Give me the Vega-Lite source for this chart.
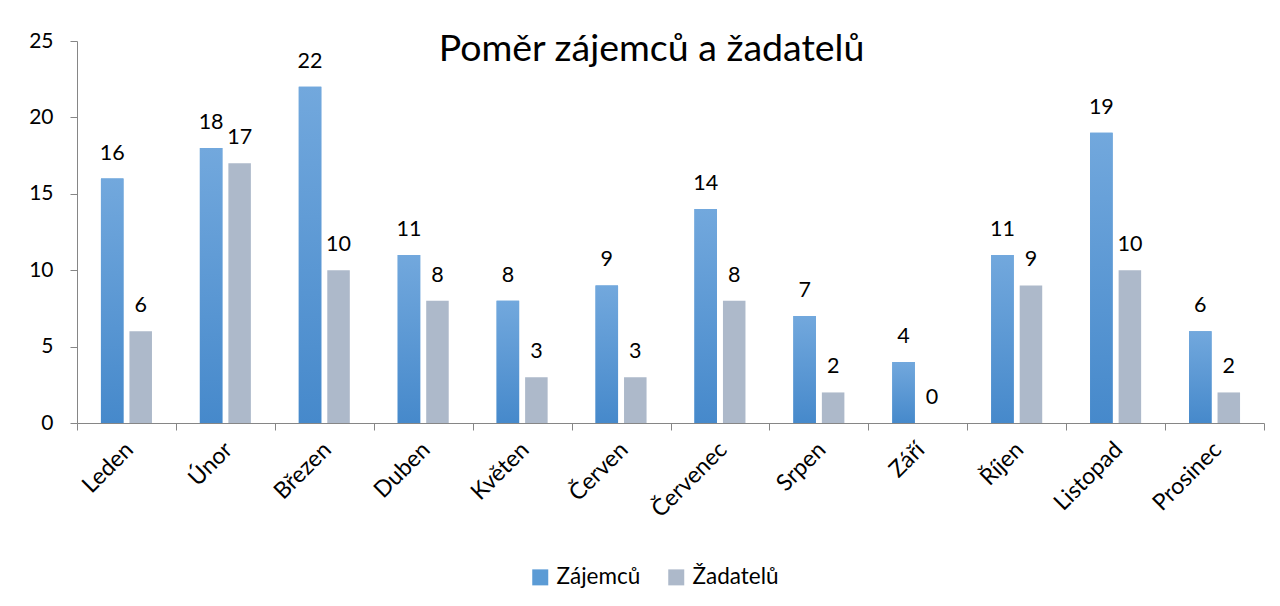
{
  "$schema": "https://vega.github.io/schema/vega-lite/v6.json",
  "width": 1187,
  "height": 382,
  "autosize": {"type": "none"},
  "padding": {"left": 77, "top": 41, "right": 16, "bottom": 183},
  "background": "white",
  "config": {"font": "Lato", "view": {"stroke": null}},
  "title": {
    "text": "Poměr zájemců a žadatelů",
    "fontSize": 37.5,
    "font": "Lato",
    "fontWeight": "normal",
    "color": "black",
    "anchor": "middle",
    "frame": "group",
    "baseline": "alphabetic",
    "offset": -26,
    "dy": 42,
    "dx": -19
  },
  "data": {
    "values": [
      {"month": "Leden", "series": "Zájemců", "value": 16},
      {"month": "Leden", "series": "Žadatelů", "value": 6},
      {"month": "Únor", "series": "Zájemců", "value": 18},
      {"month": "Únor", "series": "Žadatelů", "value": 17},
      {"month": "Březen", "series": "Zájemců", "value": 22},
      {"month": "Březen", "series": "Žadatelů", "value": 10},
      {"month": "Duben", "series": "Zájemců", "value": 11},
      {"month": "Duben", "series": "Žadatelů", "value": 8},
      {"month": "Květen", "series": "Zájemců", "value": 8},
      {"month": "Květen", "series": "Žadatelů", "value": 3},
      {"month": "Červen", "series": "Zájemců", "value": 9},
      {"month": "Červen", "series": "Žadatelů", "value": 3},
      {"month": "Červenec", "series": "Zájemců", "value": 14},
      {"month": "Červenec", "series": "Žadatelů", "value": 8},
      {"month": "Srpen", "series": "Zájemců", "value": 7},
      {"month": "Srpen", "series": "Žadatelů", "value": 2},
      {"month": "Září", "series": "Zájemců", "value": 4},
      {"month": "Září", "series": "Žadatelů", "value": 0},
      {"month": "Říjen", "series": "Zájemců", "value": 11},
      {"month": "Říjen", "series": "Žadatelů", "value": 9},
      {"month": "Listopad", "series": "Zájemců", "value": 19},
      {"month": "Listopad", "series": "Žadatelů", "value": 10},
      {"month": "Prosinec", "series": "Zájemců", "value": 6},
      {"month": "Prosinec", "series": "Žadatelů", "value": 2}
    ]
  },
  "encoding": {
    "x": {
      "field": "month",
      "type": "nominal",
      "sort": null,
      "scale": {"paddingInner": 0, "paddingOuter": 0},
      "axis": {
        "title": null,
        "labelAngle": -45,
        "labelFontSize": 23,
        "labelColor": "black",
        "labelPadding": 8,
        "labelOffset": -5,
        "domainColor": "#868686",
        "tickColor": "#868686",
        "tickSize": 7,
        "tickBand": "extent"
      }
    },
    "xOffset": {
      "field": "series",
      "type": "nominal",
      "sort": ["Zájemců", "Žadatelů"],
      "scale": {"paddingInner": 0.21, "paddingOuter": 0.84}
    },
    "y": {
      "field": "value",
      "type": "quantitative",
      "scale": {"domain": [0, 25], "nice": false},
      "axis": {
        "title": null,
        "values": [0, 5, 10, 15, 20, 25],
        "grid": false,
        "labelFontSize": 21,
        "labelColor": "black",
        "labelPadding": 17,
        "domainColor": "#868686",
        "tickColor": "#868686",
        "tickSize": 7
      }
    }
  },
  "layer": [
    {
      "mark": {"type": "bar"},
      "encoding": {
        "color": {
          "field": "series",
          "type": "nominal",
          "sort": ["Zájemců", "Žadatelů"],
          "scale": {"domain": ["Zájemců", "Žadatelů"], "range": ["#5b9bd5", "#adb9ca"]},
          "legend": {
            "title": null,
            "orient": "none",
            "direction": "horizontal",
            "legendX": 452,
            "legendY": 525,
            "padding": 0,
            "symbolType": "square",
            "symbolSize": 256,
            "symbolStrokeWidth": 0,
            "labelFontSize": 22.5,
            "labelColor": "black",
            "labelOffset": 5,
            "columnPadding": 24
          }
        }
      }
    },
    {
      "transform": [{"filter": "datum.series == 'Zájemců'"}],
      "mark": {
        "type": "bar",
        "color": {
          "gradient": "linear",
          "x1": 0, "y1": 0, "x2": 0, "y2": 1,
          "stops": [
            {"offset": 0, "color": "#72a8dd"},
            {"offset": 1, "color": "#4689cb"}
          ]
        }
      }
    },
    {
      "mark": {"type": "text", "fontSize": 21.5, "color": "black", "baseline": "alphabetic", "dy": -19},
      "encoding": {
        "text": {"field": "value", "type": "quantitative"}
      }
    }
  ]
}
